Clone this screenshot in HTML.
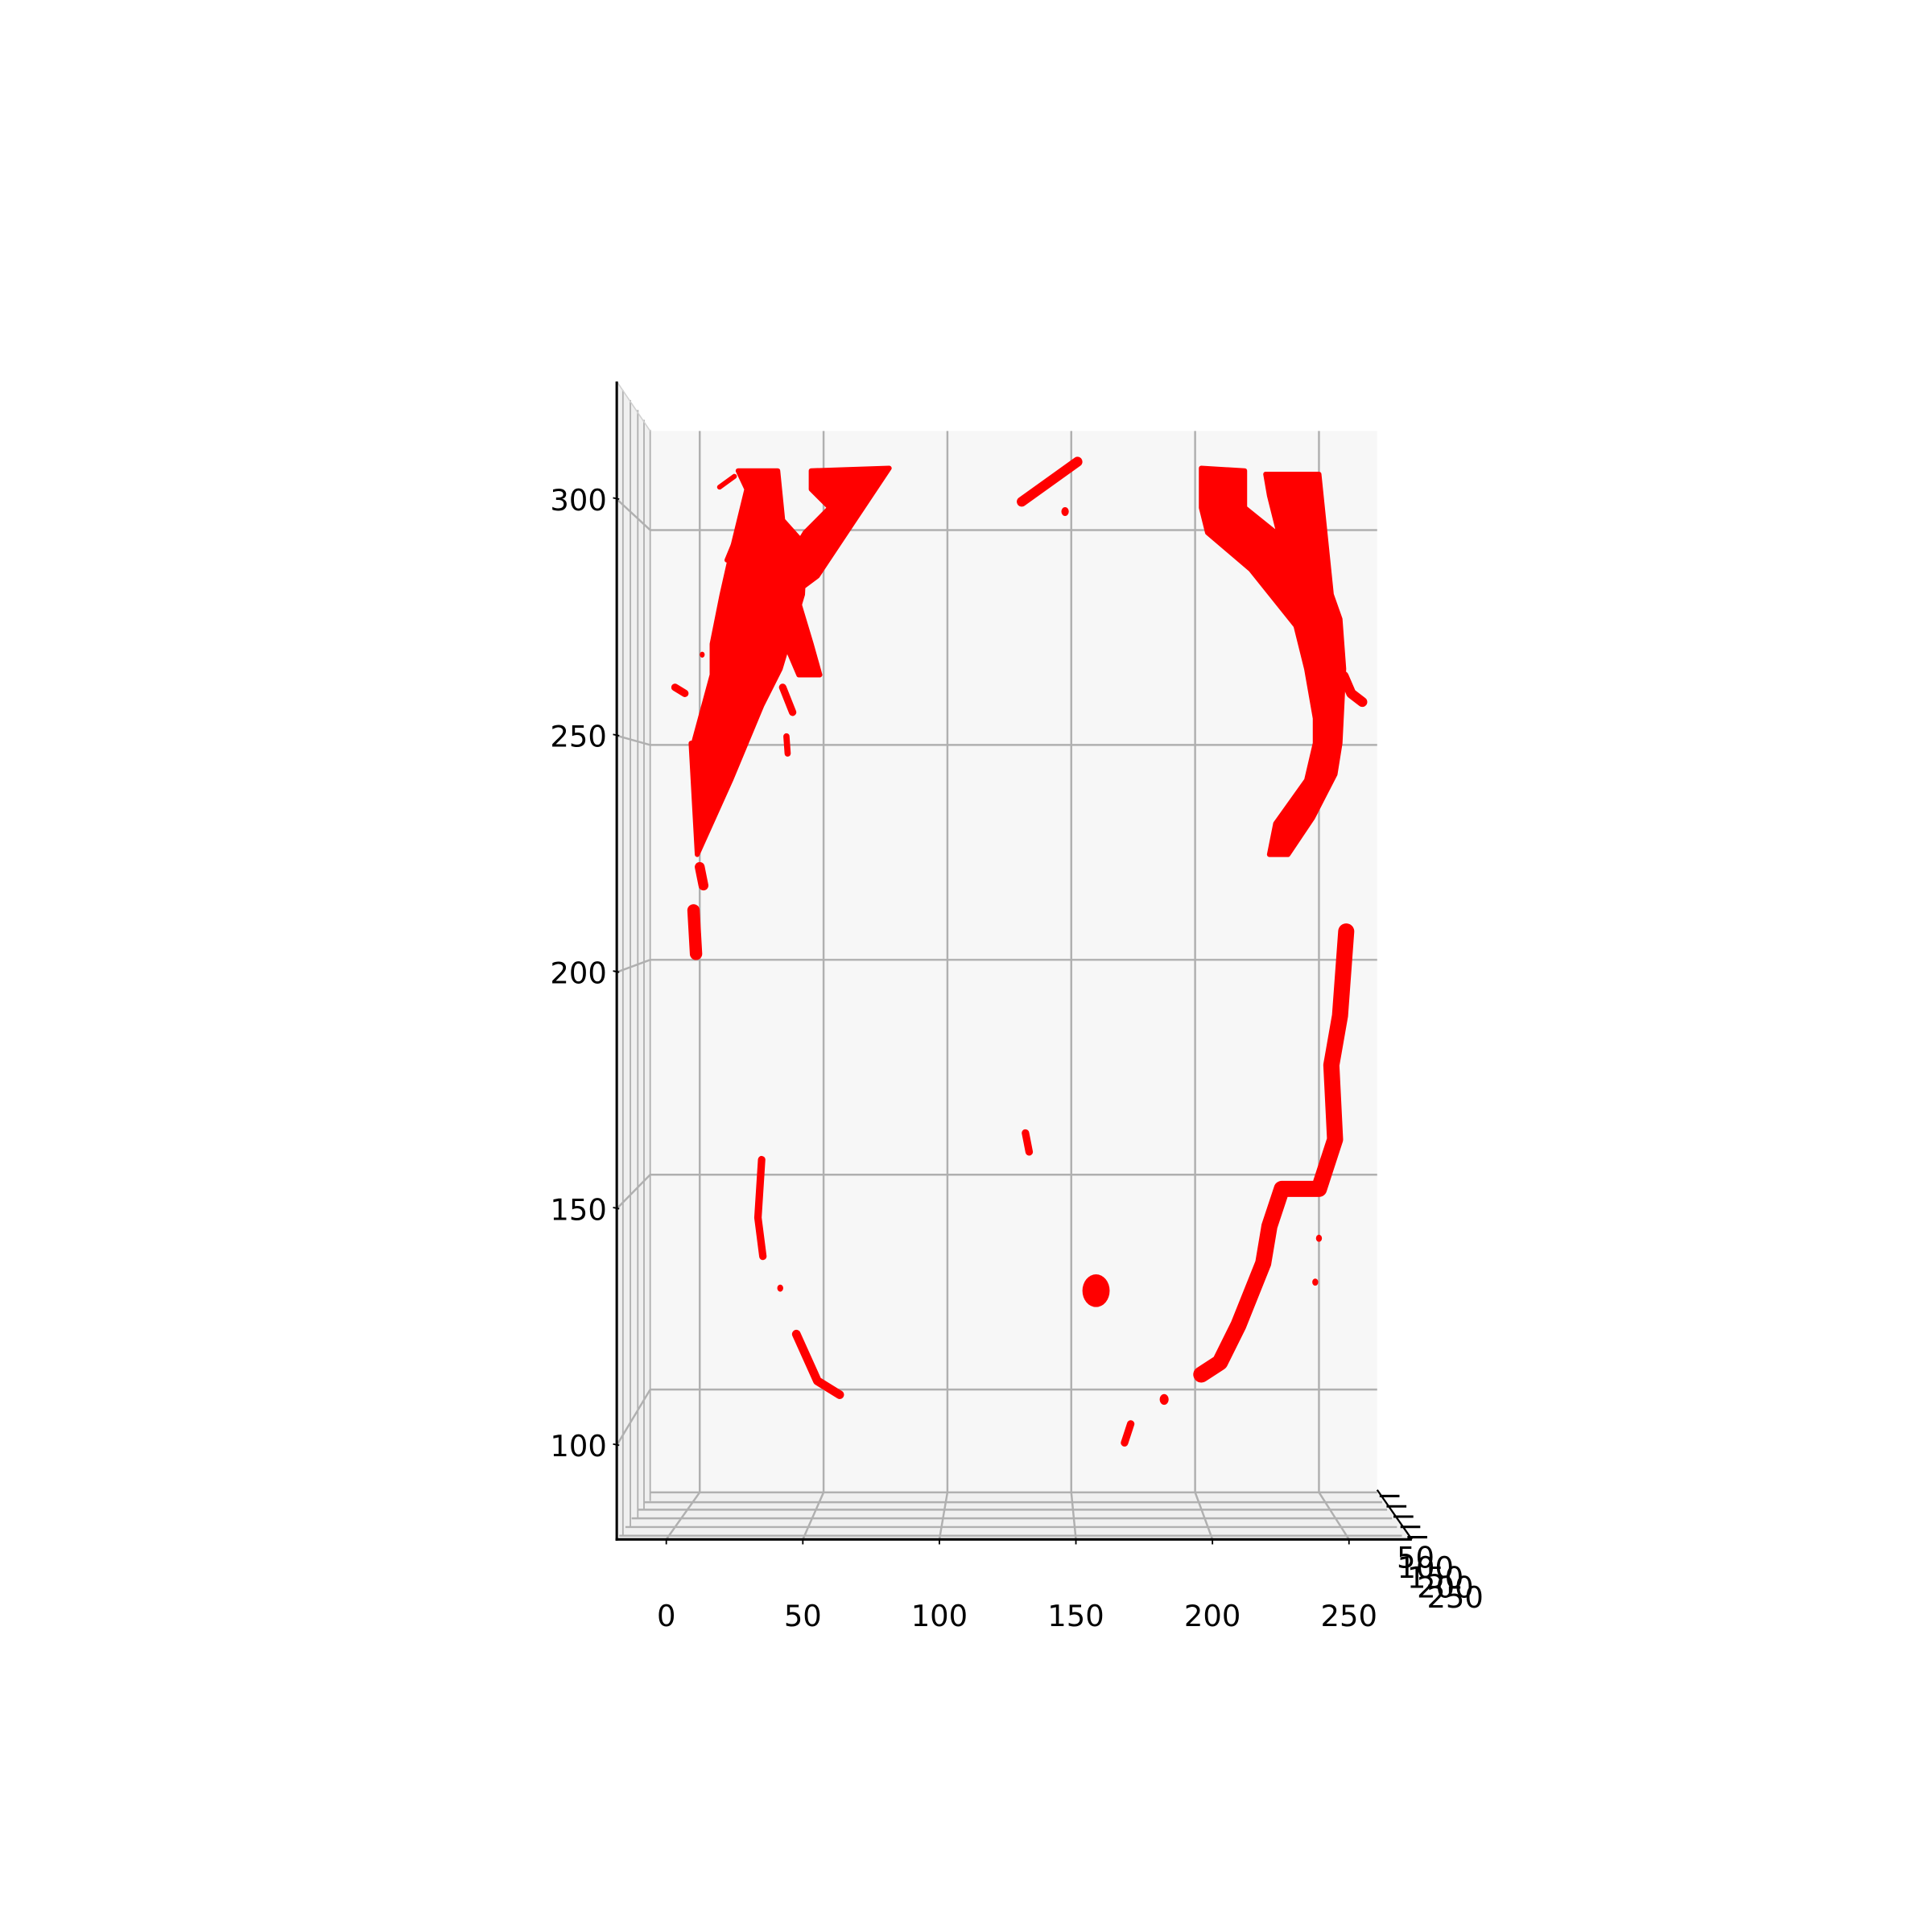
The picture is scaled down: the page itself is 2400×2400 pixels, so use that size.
<!DOCTYPE html>
<html><head><meta charset="utf-8"><style>
html,body{margin:0;padding:0;background:#fff;}
svg{display:block;}
text{font-family:"DejaVu Sans","Liberation Sans",sans-serif;fill:#000;}
</style></head><body>
<svg id="chart" width="2400" height="2400" viewBox="0 0 1560 1560" xmlns="http://www.w3.org/2000/svg">
<g id="panes"></g>
<g id="grid"></g>
<g id="marks"></g>
<g id="axes"></g>
</svg>
<script>
// ---- data (x, z in data units) ----
const xTicks = [0, 50, 100, 150, 200, 250];
const zTicks = [100, 150, 200, 250, 300];
const yTickLabels = ["50", "100", "150", "200", "250"];
// filled regions (polygons)
const polyAX = [-3.5,-1,12.5,25,32.5,41.5,42.5,33.5,31.5,15.5,19,13.5,9,5,5,-2.5];
const polyAZ = [250.4,224.5,241.8,259.1,267.7,285,296.5,302.3,313.8,313.8,309.5,296.5,285,273.5,266.3,250.4];
const polyBX = [45,76.5,62.5,47.5,37.5,33.5,42.5,52.5,45];
const polyBZ = [313.8,314.4,302.3,289.3,285,290.8,299.4,305.2,309.5];
const polyCX = [30,37.5,45,48.5,40,32.5];
const polyCZ = [282.1,287.9,273.5,266.3,266.3,276.4];
const polyDX = [202.5,220,220,232.5,247.5,242.5,222.5,205,202.5];
const polyDZ = [314.4,313.8,305.2,299.4,285,276.4,290.8,299.4,305.2];
const polyEX = [228.5,250,255,258.5,260,258.5,256.5,247.5,237.5,230,232.5,245,248.5,248.5,245,240,235,230];
const polyEZ = [313,313,285,279.3,267.7,250.4,243.2,233.1,224.5,224.5,231.7,241.8,250.4,256.2,267.7,279.3,296.5,308];
const polysX = [polyAX, polyBX, polyCX, polyDX, polyEX];
const polysZ = [polyAZ, polyBZ, polyCZ, polyDZ, polyEZ];
// thick strokes (centerlines) and widths
const strokesX = [[130,152.5],[131.5,133],[171.5,174],[261,258.5,255,256.5,250,243,235,230,227.5,217.5,210,202.5],[25,23.5,25.5],[39,47.5,56.5],[-2.5,-1.5],[0,1.5],[-10,-6],[33.5,37.5],[35,35.5],[260,263,267.5],[8,14],[11,16]];
const strokesZ = [[306.6,315.9],[159.7,155.3],[87.6,92],[206.6,187,175.5,158.2,146.7,146.7,146.7,138,129.4,115,106.3,103.5],[153.5,140,131],[112.9,102,98.8],[211.5,201.4],[221.6,217.3],[263.4,262],[263.4,257.6],[252,248],[266,262,260],[310,312.5],[293,300]];
const strokesW = [4,3,3,6.5,3,3.5,5,4,3,3,2.5,4,2,2];
// single points / blobs
const blobX = [160, 147.5, 187.5, 250, 248.5, 1, 32.5];
const blobZ = [123, 304.3, 97.7, 135.2, 125, 271, 123.6];
const blobR = [5.5, 1.5, 1.8, 1.2, 1.2, 1, 1.2];

// ---- axis functions ----
const bx = x => 565 + 2 * x;               // back pane x
const bz = z => 428 + (300 - z) * 3.47;    // back pane z
const fx = x => 538 + 2.205 * x;           // front x tick
const fz = z => 403 + (300 - z) * 3.82;    // front z tick
const NS = "http://www.w3.org/2000/svg";
function mk(tag, attrs, parent) {
  const e = document.createElementNS(NS, tag);
  for (const k in attrs) e.setAttribute(k, attrs[k]);
  parent.appendChild(e);
  return e;
}
const panes = document.getElementById('panes');
const grid = document.getElementById('grid');
const marks = document.getElementById('marks');
const axes = document.getElementById('axes');

// panes
const side = mk('polygon', {points: '498,308 525,348 525,1205 1112,1205 1140,1243 498,1243', fill: '#f0f0f0'}, panes);


const bg = mk('rect', {x: 525, y: 348, width: 587, height: 857, fill: '#f7f7f7'}, panes);


[503, 509, 515, 520, 525].forEach((lx, i) => {
  const l = mk('line', {x1: lx, y1: 315 + i * 8, x2: lx, y2: 1240 - i * 7, stroke: '#b0b0b0', 'stroke-width': 1.2}, panes);
  
  
});
[1205, 1213, 1219, 1226, 1233, 1240].forEach((ly, i) => {
  const l = mk('line', {x1: 525 - i * 5, y1: ly, x2: 1112 + i * 4, y2: ly, stroke: '#b0b0b0', 'stroke-width': 1.6}, panes);
  
  
});
const topEdge = mk('line', {x1: 498, y1: 308, x2: 525, y2: 348, stroke: '#d0d0d0', 'stroke-width': 1}, panes);



// grid
xTicks.forEach(t => {
  const g1 = mk('line', {x1: bx(t), y1: 348, x2: bx(t), y2: 1205, stroke: '#b0b0b0', 'stroke-width': 1.6}, grid);
  
  
  const g2 = mk('line', {x1: bx(t), y1: 1205, x2: fx(t), y2: 1243, stroke: '#b0b0b0', 'stroke-width': 1.6}, grid);
  
  
});
zTicks.forEach(t => {
  const g1 = mk('line', {x1: 525, y1: bz(t), x2: 1112, y2: bz(t), stroke: '#b0b0b0', 'stroke-width': 1.6}, grid);
  
  
  const g2 = mk('line', {x1: 498, y1: fz(t), x2: 525, y2: bz(t), stroke: '#b0b0b0', 'stroke-width': 1.6}, grid);
  
  
});

// marks
polysX.forEach((px, i) => {
  const pts = px.map((x, j) => bx(x) + ',' + bz(polysZ[i][j])).join(' ');
  const p = mk('polygon', {points: pts, fill: '#ff0000', stroke: '#ff0000', 'stroke-width': 4, 'stroke-linejoin': 'round'}, marks);
  
  
});
strokesX.forEach((sx, i) => {
  const pts = sx.map((x, j) => bx(x) + ',' + bz(strokesZ[i][j])).join(' ');
  const p = mk('polyline', {points: pts, fill: 'none', stroke: '#ff0000', 'stroke-width': strokesW[i] * 2, 'stroke-linecap': 'round', 'stroke-linejoin': 'round'}, marks);
  
  
});
blobX.forEach((x, i) => {
  const c = mk('ellipse', {cx: bx(x), cy: bz(blobZ[i]), rx: blobR[i] * 2, ry: blobR[i] * 2.4, fill: '#ff0000'}, marks);
  
  
});

// axes
const ya = mk('line', {x1: 498, y1: 308, x2: 498, y2: 1244, stroke: '#000', 'stroke-width': 2}, axes);


const xa = mk('line', {x1: 497, y1: 1243, x2: 1140, y2: 1243, stroke: '#000', 'stroke-width': 2}, axes);


const da = mk('line', {x1: 1112, y1: 1203, x2: 1140, y2: 1243, stroke: '#000', 'stroke-width': 1.5}, axes);


xTicks.forEach(t => {
  const tk = mk('line', {x1: fx(t), y1: 1243, x2: fx(t), y2: 1247, stroke: '#000', 'stroke-width': 1.2}, axes);
  
  
  const lb = mk('text', {x: fx(t), y: 1313, 'font-size': 24, 'text-anchor': 'middle'}, axes);
  lb.textContent = String(t);
  
  
});
zTicks.forEach(t => {
  const tk = mk('line', {x1: 495, y1: fz(t) - 1, x2: 500, y2: fz(t), stroke: '#000', 'stroke-width': 1.2}, axes);
  
  
  const lb = mk('text', {x: 490, y: fz(t) + 9, 'font-size': 24, 'text-anchor': 'end'}, axes);
  lb.textContent = String(t);
  
  
});
yTickLabels.forEach((s, i) => {
  const ty = 1208 + i * 8.3;
  const tx = 1114 + i * 5.6;
  const tk = mk('line', {x1: tx, y1: ty, x2: tx + 16, y2: ty, stroke: '#000', 'stroke-width': 2}, axes);
  
  
  const lb = mk('text', {x: 1143 + i * 8, y: 1266 + i * 8, 'font-size': 24, 'text-anchor': 'middle'}, axes);
  lb.textContent = s;
  
  
});
</script>
</body></html>
